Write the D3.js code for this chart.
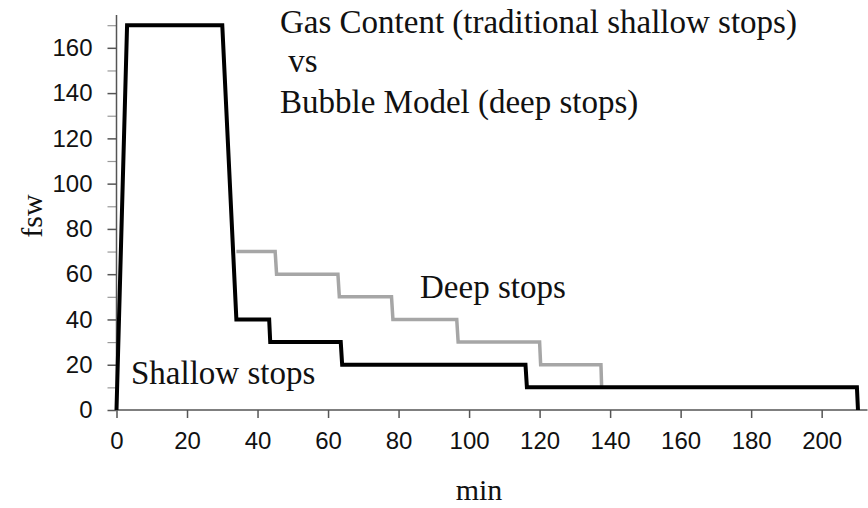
<!DOCTYPE html>
<html>
<head>
<meta charset="utf-8">
<script src="https://cdn.jsdelivr.net/npm/d3@7/dist/d3.min.js"></script>
<style>
  html, body { margin: 0; padding: 0; background: #fff; }
  svg { display: block; }
</style>
</head>
<body>
<svg id="chart" width="868" height="508"></svg>
<script>
// Dive profiles: [minutes, depth in fsw]
const shallowProfile = [
  [0, 0], [3, 170], [30, 170], [34, 40], [43.3, 40], [43.6, 30],
  [63.6, 30], [64, 20], [116, 20], [116.4, 10], [210, 10], [210.3, 0]
];
const deepProfile = [
  [34, 70], [45, 70], [45.4, 60], [62.8, 60], [63.2, 50], [78, 50],
  [78.4, 40], [96.5, 40], [96.9, 30], [120, 30], [120.3, 20],
  [137.4, 20], [137.6, 10]
];
const xTicks = [0, 20, 40, 60, 80, 100, 120, 140, 160, 180, 200];
const yTicks = [0, 20, 40, 60, 80, 100, 120, 140, 160];
const yMinorTicks = [10, 30, 50, 70, 90, 110, 130, 150, 170];
const titleLines = ["Gas Content (traditional shallow stops)", " vs", "Bubble Model (deep stops)"];

const svg = d3.select("#chart");
const x = d3.scaleLinear().domain([0, 213]).range([116.5, 867.5]);
const y = d3.scaleLinear().domain([0, 174.5]).range([410, 15]);

const axisColor = "#555";
const sans = "'Liberation Sans', Arial, sans-serif";
const serif = "'Liberation Serif', 'Times New Roman', serif";

// y axis with minor ticks every 10
const gy = svg.append("g").attr("transform", `translate(${x(0)},0)`);
gy.call(d3.axisLeft(y).tickValues(yMinorTicks).tickSize(9).tickFormat(""));
gy.selectAll(".tick line").attr("stroke", "#999").attr("stroke-width", 1.2);
gy.select(".domain").remove();
const gyMajor = svg.append("g").attr("transform", `translate(${x(0)},0)`);
gyMajor.call(d3.axisLeft(y).tickValues(yTicks).tickSize(9).tickPadding(15));
gyMajor.attr("font-family", sans).attr("font-size", 24);
gyMajor.select(".domain").attr("d", `M0,${y(174.5)}V${y(0)}`)
  .attr("stroke", axisColor).attr("stroke-width", 1.5);
gyMajor.selectAll(".tick line").attr("stroke", axisColor).attr("stroke-width", 1.5);
gyMajor.selectAll(".tick text")
  .style("font-family", sans).style("font-size", "24px").attr("fill", "#111");

// x axis
const gx = svg.append("g").attr("transform", `translate(0,${y(0)})`);
gx.call(d3.axisBottom(x).tickValues(xTicks).tickSize(8).tickPadding(14));
gx.attr("font-family", sans).attr("font-size", 24);
gx.select(".domain").attr("d", `M${x(0)},0H${x(213)}`)
  .attr("stroke", axisColor).attr("stroke-width", 1.5);
gx.selectAll(".tick line").attr("stroke", axisColor).attr("stroke-width", 1.5);
gx.selectAll(".tick text")
  .style("font-family", sans).style("font-size", "24px").attr("fill", "#111");

const line = d3.line().x(d => x(d[0])).y(d => y(d[1]));

svg.append("path").datum(deepProfile)
  .attr("d", line).attr("fill", "none")
  .attr("stroke", "#a6a6a6").attr("stroke-width", 3.5)
  .attr("stroke-linejoin", "miter");

svg.append("path").datum(shallowProfile)
  .attr("d", line).attr("fill", "none")
  .attr("stroke", "#000").attr("stroke-width", 4)
  .attr("stroke-linejoin", "miter");

// text annotations
const tY = [33, 72, 113];
titleLines.forEach((t, i) => {
  svg.append("text").attr("x", 280).attr("y", tY[i])
    .attr("font-family", serif).attr("font-size", 33).attr("fill", "#111")
    .attr("xml:space", "preserve").style("white-space", "pre")
    .text(t);
});

svg.append("text").attr("x", 420).attr("y", 298)
  .attr("font-family", serif).attr("font-size", 33).attr("fill", "#111")
  .text("Deep stops");

svg.append("text").attr("x", 131).attr("y", 384)
  .attr("font-family", serif).attr("font-size", 33).attr("fill", "#111")
  .text("Shallow stops");

svg.append("text").attr("x", 479).attr("y", 500)
  .attr("text-anchor", "middle")
  .attr("font-family", serif).attr("font-size", 30).attr("fill", "#111")
  .text("min");

svg.append("text")
  .attr("transform", "translate(42,216) rotate(-90)")
  .attr("text-anchor", "middle")
  .attr("font-family", serif).attr("font-size", 30).attr("fill", "#111")
  .text("fsw");
</script>
</body>
</html>
